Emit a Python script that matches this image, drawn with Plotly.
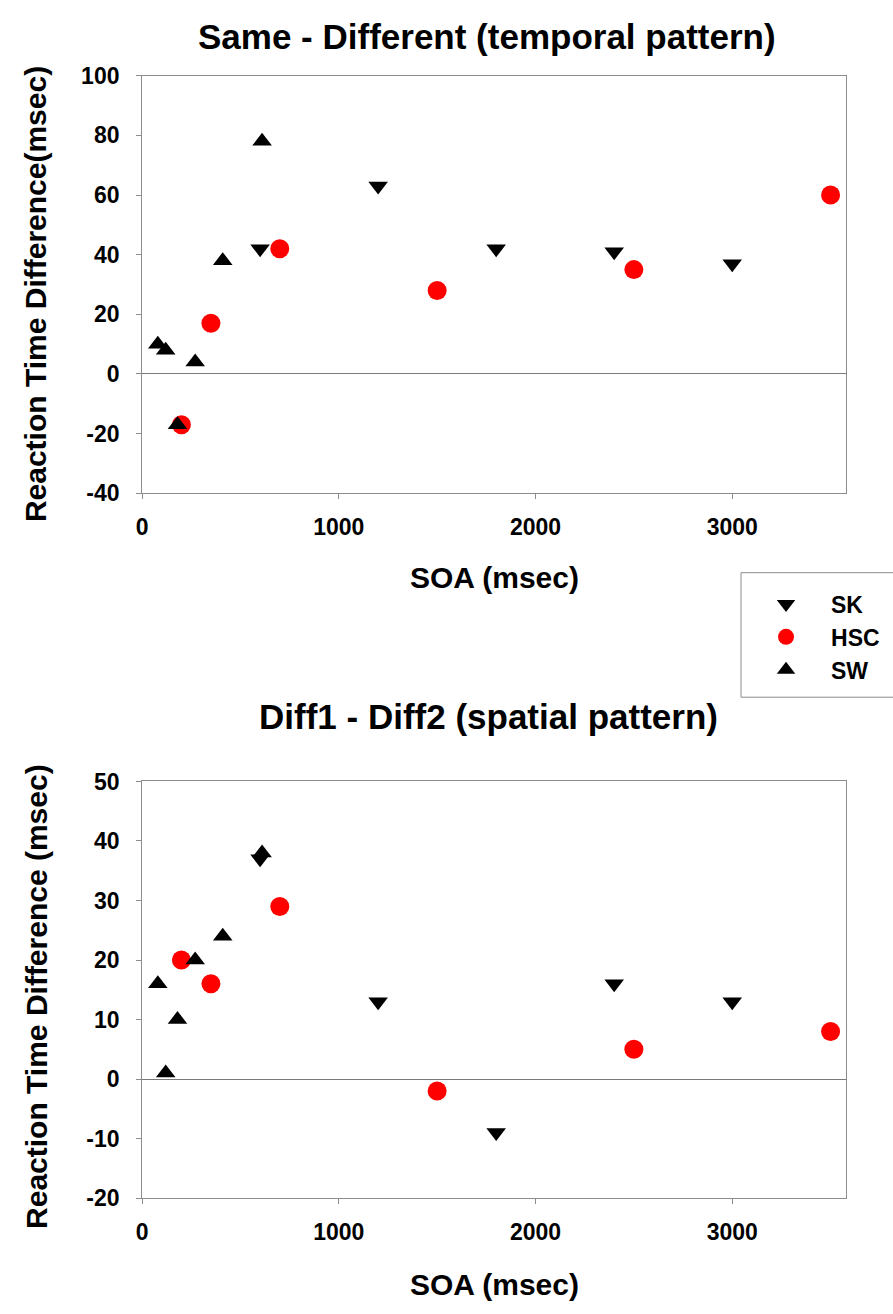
import plotly.graph_objects as go

W, H = 893, 1314

# ---- data ----
SK_x = [600, 1200, 1800, 2400, 3000]
SK_top = [42, 63, 42, 41, 37]
SK_bot = [37, 13, -9, 16, 13]

HSC_x = [200, 350, 700, 1500, 2500, 3500]
HSC_top = [-17, 17, 42, 28, 35, 60]
HSC_bot = [20, 16, 29, -2, 5, 8]

SW_x = [80, 120, 180, 270, 410, 610]
SW_top = [10, 8, -17, 4, 38, 78]
SW_bot = [16, 1, 10, 20, 24, 38]

x_ticks = [0, 1000, 2000, 3000]
top_yticks = [-40, -20, 0, 20, 40, 60, 80, 100]
bot_yticks = [-20, -10, 0, 10, 20, 30, 40, 50]

FONT = "Liberation Sans, Arial, sans-serif"
GRAY = "#8c8c8c"

def px(x):
    return x / W

def py(y):
    return 1 - y / H

fig = go.Figure()

series = [
    ("SK", SK_x, SK_top, SK_bot, dict(symbol="triangle-down", color="black", size=17)),
    ("HSC", HSC_x, HSC_top, HSC_bot, dict(symbol="circle", color="red", size=19)),
    ("SW", SW_x, SW_top, SW_bot, dict(symbol="triangle-up", color="black", size=17)),
]

for name, xs, yt, yb, mk in series:
    fig.add_trace(go.Scatter(x=xs, y=yt, mode="markers", name=name, marker=dict(**mk, line=dict(width=0)),
                             xaxis="x", yaxis="y", showlegend=True, cliponaxis=False))
for name, xs, yt, yb, mk in series:
    fig.add_trace(go.Scatter(x=xs, y=yb, mode="markers", name=name, marker=dict(**mk, line=dict(width=0)),
                             xaxis="x2", yaxis="y2", showlegend=False, cliponaxis=False))

tickfont = dict(family=FONT, size=23, color="black", weight="bold")
xdom = [px(137), px(846)]

common_x = dict(domain=xdom, range=[0, 3580], tickvals=x_ticks, ticktext=[str(v) for v in x_ticks],
                showgrid=False, zeroline=False,
                showline=True, linecolor=GRAY, linewidth=1, mirror=True,
                ticks="outside", ticklen=5, tickcolor=GRAY, tickfont=tickfont, ticklabelstandoff=8)

common_y = dict(showgrid=False, zeroline=True, zerolinecolor="#7a7a7a", zerolinewidth=1,
                showline=True, linecolor=GRAY, linewidth=1, mirror=True,
                ticks="outside", ticklen=5, tickcolor=GRAY, tickfont=tickfont, ticklabelstandoff=12)

fig.update_layout(
    width=W, height=H, autosize=False,
    margin=dict(l=0, r=0, t=0, b=0),
    paper_bgcolor="white", plot_bgcolor="white",
    xaxis=dict(anchor="y", **common_x),
    xaxis2=dict(anchor="y2", **common_x),
    yaxis=dict(domain=[py(490), py(64)], range=[-40, 100], tickvals=top_yticks,
               ticktext=[str(v) for v in top_yticks], anchor="x", **common_y),
    yaxis2=dict(domain=[py(1209), py(784)], range=[-20, 50], tickvals=bot_yticks,
                ticktext=[str(v) for v in bot_yticks], anchor="x2", **common_y),
    showlegend=True,
    legend=dict(x=px(740), y=py(581), xanchor="left", yanchor="top",
                font=dict(family=FONT, size=23, color="black", weight="bold"),
                itemwidth=80, bgcolor="rgba(0,0,0,0)", borderwidth=0, tracegroupgap=0),
)

# legend frame (extends past the right edge as in the reference)
fig.add_shape(type="rect", xref="paper", yref="paper", x0=px(740), x1=px(905), y0=py(698), y1=py(571),
              line=dict(color=GRAY, width=1), fillcolor="rgba(0,0,0,0)", layer="above")

def ann(text, x, y, size, angle=0):
    fig.add_annotation(text=text, xref="paper", yref="paper", x=px(x), y=py(y),
                       xanchor="center", yanchor="middle", showarrow=False, textangle=angle,
                       font=dict(family=FONT, size=size, color="black", weight="bold"))

ann("Same - Different (temporal pattern)", 484, 24, 35)
ann("Diff1 - Diff2 (spatial pattern)", 486, 718, 35)
ann("SOA (msec)", 492, 576, 30)
ann("SOA (msec)", 492, 1297, 30)
ann("Reaction Time Difference(msec)", 30, 287, 30, -90)
ann("Reaction Time Difference (msec)", 30, 1003, 30, -90)

fig.write_html("out.html")
